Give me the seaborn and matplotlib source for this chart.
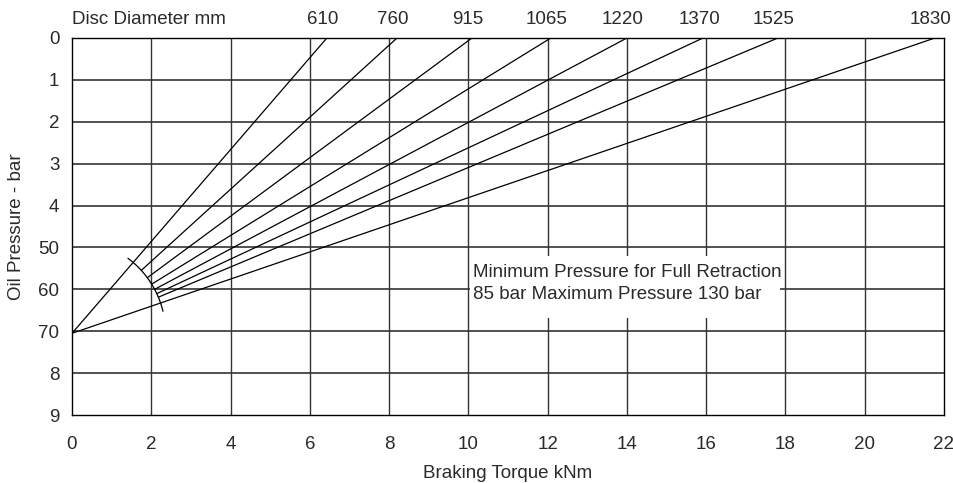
import numpy as np
import pandas as pd
import matplotlib
matplotlib.use("Agg")
import matplotlib.pyplot as plt
import matplotlib.transforms as mtransforms
from matplotlib.patches import Rectangle
import seaborn as sns

# ---- data ----
disc_labels = ["610", "760", "915", "1065", "1220", "1370", "1525", "1830"]
torque_at_zero = [6.43, 8.2, 10.09, 12.08, 14.0, 15.92, 17.81, 21.77]
origin_pressure = 7.05
x_ticks = [0, 2, 4, 6, 8, 10, 12, 14, 16, 18, 20, 22]
y_ticks = [0, 1, 2, 3, 4, 5, 6, 7, 8, 9]
y_ticklabels = ["0", "1", "2", "3", "4", "50", "60", "70", "8", "9"]
full_lines = ["610", "1830"]
note_lines = ["Minimum Pressure for Full Retraction", "85 bar Maximum Pressure 130 bar"]
arc_radius_px = 93.6
arc_angles_deg = (13.6, 53.3)

sns.set_theme(style="white")
plt.rcParams['font.family'] = ['Liberation Sans', 'DejaVu Sans']

FS = 13.5
TC = "#2a2a2a"
W, H, DPI = 954, 483, 100
fig = plt.figure(figsize=(W / DPI, H / DPI), dpi=DPI)
ax_l, ax_r, ax_t, ax_b = 72, 944, 38, 415
ax = fig.add_axes([ax_l / W, 1 - ax_b / H, (ax_r - ax_l) / W, (ax_b - ax_t) / H])
ax.set_xlim(0, 22)
ax.set_ylim(9, 0)

sx = (ax_r - ax_l) / 22.0
sy = (ax_b - ax_t) / 9.0

# build line data
rows = []
for lab, xe in zip(disc_labels, torque_at_zero):
    dx_px = xe * sx
    dy_px = origin_pressure * sy
    L = np.hypot(dx_px, dy_px)
    t0 = 0.0 if lab in full_lines else arc_radius_px / L
    for t in (t0, 1.0):
        rows.append({"disc": lab, "torque": xe * t, "pressure": origin_pressure * (1 - t)})
df = pd.DataFrame(rows)

# grid
for xv in x_ticks[1:-1]:
    ax.axvline(xv, color="#333333", lw=1.0, zorder=1)
for yv in y_ticks[1:-1]:
    ax.axhline(yv, color="#333333", lw=1.2, zorder=1)

sns.lineplot(data=df, x="torque", y="pressure", hue="disc", palette=["black"] * len(disc_labels),
             legend=False, estimator=None, sort=False, lw=0.9, ax=ax, zorder=3)

# arc
th = np.radians(np.linspace(arc_angles_deg[0], arc_angles_deg[1], 100))
arc_x = arc_radius_px * np.cos(th) / sx
arc_y = origin_pressure - arc_radius_px * np.sin(th) / sy
ax.plot(arc_x, arc_y, color="black", lw=0.9, zorder=3)

ax.set_xticks(x_ticks)
ax.set_xticklabels([str(v) for v in x_ticks])
ax.set_yticks(y_ticks)
ax.set_yticklabels(y_ticklabels)
ax.tick_params(axis="both", length=0, labelsize=FS, colors=TC)
ax.tick_params(axis="x", pad=15)
ax.tick_params(axis="y", pad=9)
ax.set_xlabel("Braking Torque kNm", fontsize=FS, color=TC, labelpad=9)
ax.set_ylabel("Oil Pressure - bar", fontsize=FS, color=TC, labelpad=10)

for s in ax.spines.values():
    s.set_color("black")
    s.set_linewidth(1.0)
    s.set_visible(True)

trans = mtransforms.blended_transform_factory(ax.transData, ax.transAxes)
ax.text(0, 1.05, "Disc Diameter mm", transform=trans, ha="left", va="center",
        fontsize=FS, color=TC)
for lab, xe in zip(disc_labels, torque_at_zero):
    ax.text(xe - 0.1, 1.05, lab, transform=trans, ha="center", va="center",
            fontsize=FS, color=TC)

# annotation box (white background, no border)
ax.add_patch(Rectangle((10.04, 5.2), 17.86 - 10.04, 6.68 - 5.2, facecolor="white",
                       edgecolor="none", zorder=4))
ax.text(10.12, 5.61, note_lines[0], ha="left", va="center", fontsize=FS, color=TC, zorder=5)
ax.text(10.12, 6.13, note_lines[1], ha="left", va="center", fontsize=FS, color=TC, zorder=5)

fig.savefig("out.png", dpi=DPI)
